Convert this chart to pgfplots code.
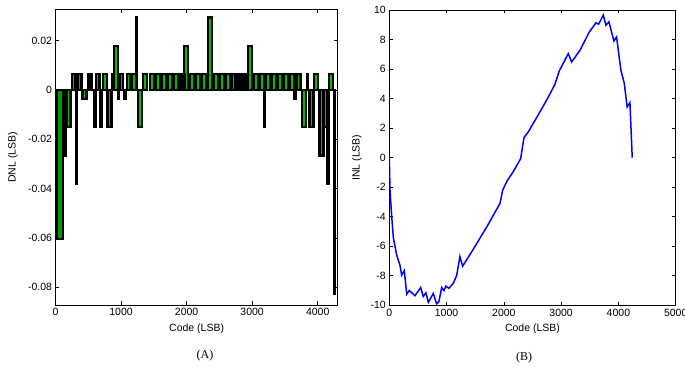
\documentclass[border=0pt]{standalone}
\usepackage{pgfplots}
\pgfplotsset{compat=1.18}
\usepackage{fontspec}
\setmainfont{Liberation Sans}
\newfontfamily\capfont{Liberation Serif}
\definecolor{bargreen}{RGB}{0,190,0}
\begin{document}
\begin{tikzpicture}[x=1pt,y=1pt]
\useasboundingbox (0pt,0pt) rectangle (685pt,372pt);
\pgfplotsset{
  myax/.style={
    scale only axis, anchor=south west,
    axis line style={black, line width=0.8pt},
    tick style={black, line width=0.6pt},
    major tick length=3.5pt, tick align=inside,
    font=\fontsize{10.5}{12}\selectfont,
    tick label style={font=\fontsize{10.5}{12}\selectfont},
    /pgf/number format/assume math mode=true,
    scaled ticks=false,
  }
}
% ---------- (A) DNL ----------
\begin{axis}[myax,
  at={(55.5pt,67pt)}, width=282.2pt, height=295.5pt,
  xmin=0, xmax=4305, ymin=-0.0872, ymax=0.0327,
  xtick={0,1000,2000,3000,4000}, xticklabels={0,1000,2000,3000,4000},
  ytick={-0.08,-0.06,-0.04,-0.02,0,0.02},
  yticklabels={-0.08,-0.06,-0.04,-0.02,0,0.02},
  xlabel={Code (LSB)}, ylabel={DNL (LSB)},
  xlabel style={at={(axis description cs:0.5,-0.081)}, anchor=center},
  ylabel style={at={(axis description cs:-0.151,0.5)}, anchor=center},
]
% wide bar at start
\addplot[ybar, bar width=95, bar shift=0pt, fill=bargreen!80!black, draw=black, line width=2pt]
  coordinates {(69,-0.0604)};
% bars with green fill
\addplot[ybar, bar width=60, bar shift=0pt, fill=bargreen, draw=black, line width=2.4pt]
  coordinates {
  (201,-0.015) (278,0.0065) (366,0.0065) (443,-0.0037) (644,0.0065)
  (755,0.0065) (824,-0.015) (920,0.0178) (1004,0.0065) (1117,0.0065)
  (1195,0.0065) (1289,-0.015)
  (1366,0.0065) (1473,0.0065) (1564,0.0065) (1656,0.0065) (1747,0.0065)
  (1839,0.0065) (1900,0.0065) (1938,0.0065) (1991,0.0178) (2083,0.0065)
  (2174,0.0065) (2266,0.0065) (2358,0.0295) (2449,0.0065) (2541,0.0065)
  (2632,0.0065) (2724,0.0065) (2770,0.0065) (2823,0.0065) (2869,0.0065)
  (2968,0.0178) (3060,0.0065) (3151,0.0065) (3243,0.0065) (3335,0.0065)
  (3426,0.0065) (3518,0.0065) (3609,0.0065)
  (3708,0.0065) (3792,-0.015) (3904,-0.015) (3975,0.0065) (4056,-0.0265)
  (4113,-0.015) (4204,0.0065)
  };
% narrow black bars
\addplot[ybar, bar width=15, bar shift=0pt, fill=black, draw=black, line width=2.5pt]
  coordinates {
  (145,-0.0265) (323,-0.038) (511,0.0065) (552,0.0065) (603,-0.015)
  (694,-0.015) (877,0.0065) (958,-0.0037) (1061,-0.0037) (1239,0.0295)
  (3189,-0.015) (3655,-0.0037) (3842,0.0065) (4158,-0.038) (4254,-0.0827)
  };
\end{axis}
% ---------- (B) INL ----------
\begin{axis}[myax,
  at={(389.3pt,66.7pt)}, width=286.4pt, height=295.3pt,
  xmin=0, xmax=5000, ymin=-10, ymax=10,
  xtick={0,1000,2000,3000,4000,5000}, xticklabels={0,1000,2000,3000,4000,5000},
  ytick={-10,-8,-6,-4,-2,0,2,4,6,8,10},
  yticklabels={-10,-8,-6,-4,-2,0,2,4,6,8,10},
  xlabel={Code (LSB)}, ylabel={INL (LSB)},
  xlabel style={at={(axis description cs:0.5,-0.081)}, anchor=center},
  ylabel style={at={(axis description cs:-0.113,0.5)}, anchor=center},
]
\addplot[color={rgb,255:red,0;green,0;blue,255}, line width=1.5pt, mark=none]
  coordinates {
  (0,0) (12,-2.2) (42,-4.0) (70,-5.4) (129,-6.6) (187,-7.3) (216,-7.95)
  (262,-7.65) (304,-9.25) (349,-9.0) (448,-9.35) (548,-8.8) (593,-9.4)
  (640,-9.15) (681,-9.8) (768,-9.2) (826,-9.9) (866,-9.75) (914,-8.8)
  (954,-9.0) (989,-8.7) (1041,-8.85) (1117,-8.5) (1175,-8.0) (1233,-6.7)
  (1280,-7.35) (1466,-6.2) (1700,-4.7) (1932,-3.1) (1979,-2.2) (2060,-1.55)
  (2164,-0.95) (2293,-0.07) (2351,1.36) (2426,1.74) (2630,3.1) (2775,4.1)
  (2892,4.97) (2967,5.87) (3124,7.05) (3183,6.48) (3328,7.27) (3490,8.5)
  (3607,9.13) (3654,9.04) (3735,9.65) (3782,8.97) (3834,9.2) (3921,7.9)
  (3968,8.18) (4043,5.92) (4101,5.06) (4153,3.43) (4201,3.73) (4241,0)
  };
\end{axis}
\node[font=\capfont\fontsize{12}{14}\selectfont] at (205pt,16pt) {(A)};
\node[font=\capfont\fontsize{12}{14}\selectfont] at (524pt,14pt) {(B)};
\end{tikzpicture}
\end{document}
